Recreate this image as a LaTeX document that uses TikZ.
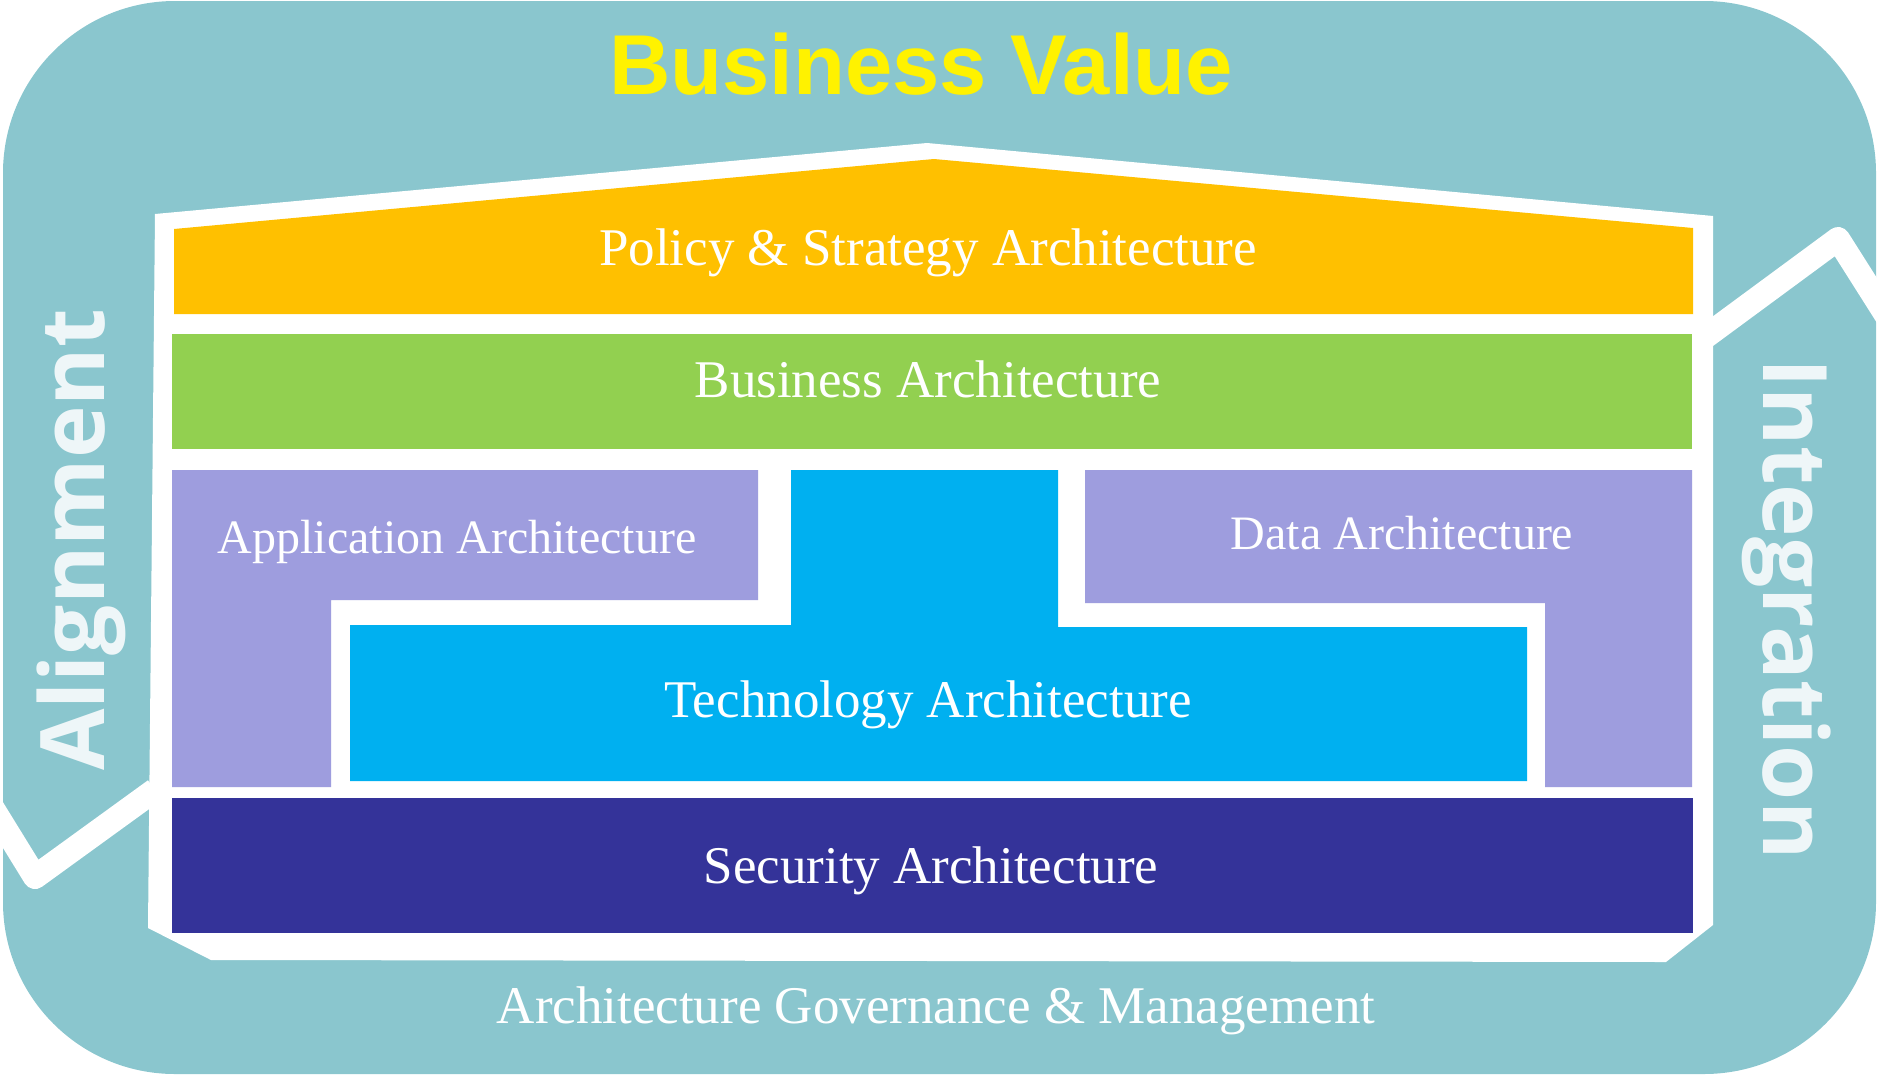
\documentclass[tikz,border=0pt]{standalone}
\usepackage{fontspec}
\setmainfont{Liberation Serif}
\newfontfamily\titlefont{Liberation Sans}
\newfontfamily\sidefont{Open Sans}

\definecolor{tealbg}{HTML}{8AC6CE}
\definecolor{policyc}{HTML}{FFC000}
\definecolor{businessc}{HTML}{92D050}
\definecolor{appc}{HTML}{9E9DDE}
\definecolor{techc}{HTML}{00B0F0}
\definecolor{securityc}{HTML}{343399}
\definecolor{sidewhite}{HTML}{EEF6F8}

\begin{document}
\begin{tikzpicture}[x=1pt,y=-1pt,
	layer/.style={text=white, anchor=base, font=\fontsize{53}{53}\selectfont},
	smalllayer/.style={layer, font=\fontsize{48}{48}\selectfont},
	title/.style={text=yellow, anchor=base, font=\titlefont\bfseries\fontsize{85}{85}\selectfont},
	side/.style={text=sidewhite, anchor=base, font=\sidefont\bfseries\fontsize{89}{89}\selectfont}]
		\useasboundingbox (0,0) rectangle (1881,1074);
		\fill[tealbg, rounded corners=172pt] (3,1) rectangle (1876,1074);

		% side zigzags
		\draw[white, line width=24pt, line join=round] (-10,804) -- (35,877) -- (155,790);
		\draw[white, line width=24pt, line join=round] (1705,337) -- (1838,239) -- (1895,329);

		% house
		\fill[white] (155,214) -- (927,143) -- (1713,216) -- (1713,925) -- (1666,962) -- (211,960) -- (148,928) -- cycle;
		\fill[policyc] (174,229) -- (934,159) -- (1693,228) -- (1693,314) -- (174,314) -- cycle;
		\fill[businessc] (172,334) rectangle (1692,449);
		\fill[appc] (172,470) -- (758,470) -- (758,600) -- (331,600) -- (331,787) -- (172,787) -- cycle;
		\fill[appc] (1085,470) -- (1692,470) -- (1692,787) -- (1545,787) -- (1545,603) -- (1085,603) -- cycle;
		\fill[techc] (791,470) -- (1058,470) -- (1058,627) -- (1527,627) -- (1527,781) -- (350,781) -- (350,625) -- (791,625) -- cycle;
		\fill[securityc] (172,798) rectangle (1693,933);

		\draw (921,94) node[title] (value) {Business Value};
		\draw (928,265) node[layer] (policy) {Policy \& Strategy Architecture};
		\draw (928,397) node[layer] (business) {Business Architecture};
		\draw (457,553) node[smalllayer] (application) {Application Architecture};
		\draw (1402,549) node[smalllayer] (data) {Data Architecture};
		\draw (928,717) node[layer] (technology) {Technology Architecture};
		\draw (931,883) node[layer] (security) {Security Architecture};
		\draw (936,1023) node[layer] (governance) {Architecture Governance \& Management};

		\draw (104,540) node[side, rotate=90] (alignment) {Alignment};
		\draw (1763,609) node[side, rotate=-90] (integration) {Integration};
	\end{tikzpicture}
\end{document}
